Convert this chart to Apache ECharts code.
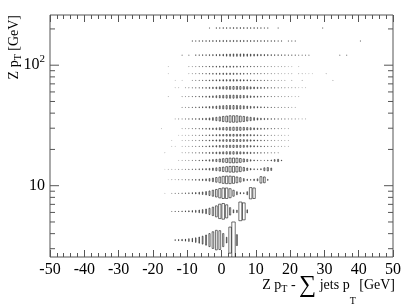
<!DOCTYPE html>
<html><head><meta charset="utf-8">
<script src="https://cdn.jsdelivr.net/npm/echarts/dist/echarts.min.js"></script>
<style>html,body{margin:0;padding:0;background:#fff}#c{width:415px;height:307px}</style>
</head><body><div id="c"></div>
<script>
// ---- data ----
const xMin = -50, xMax = 50, xBinWidth = 1;
const yMin = 2.56, yMax = 261;
// Z pT bin edges (GeV); row r spans [zptEdges[r], zptEdges[r+1]]
const zptEdges = [2.5, 5, 7.5, 10, 12.5, 15, 17.5, 20, 22.5, 25, 27.5, 32, 40, 50, 60, 70, 80, 90, 105, 140, 180, 230];
// first x bin (low edge, GeV) of each row's contiguous content list
const rowStarts = [-14, -15, -17, -16, -17, -13, -12, -12, -12, -13, -12, -14, -12, -12, -11, -9, -10, -10, -8, -9, -2];
const row00 = [3,4,5,6,8,10,13,17,22,28,36,46,54,52,36,16,72,100,30];
const row01 = [2,3,3,4,5,6,8,10,13,17,22,30,40,52,68,74,62,35,15,12,88,80,15];
const row02 = [1,0,2,3,3,4,5,6,8,10,13,17,22,30,40,50,62,70,70,60,40,20,10,8,20,75,70];
const row03 = [1,2,2,3,3,4,5,6,8,10,13,17,22,30,40,50,60,65,65,60,50,38,22,12,8,14,18,55,50,10];
const row04 = [1,2,2,2,3,3,4,5,6,7,9,11,14,18,24,30,38,46,54,60,62,58,50,38,26,16,10,8,12,30,35,25];
const row05 = [2,3,3,4,5,6,8,10,13,17,22,28,36,44,52,58,60,56,48,38,28,18,12,8,6,6,8,12,22,28,10];
const row06 = [3,3,4,5,6,7,9,11,14,18,22,26,30,33,35,35,33,30,26,22,18,14,11,9,7,6,5,5,4];
const row07 = [3,3,4,5,6,7,9,11,14,18,22,26,30,33,35,36,35,33,30,26,22,18,14,11,9,7,6,5,4,4,3,3];
const row08 = [3,3,4,5,6,7,9,11,14,17,21,25,29,32,34,35,35,33,30,27,23,19,15,12,9,7,6,5,4,4,3,3];
const row09 = [2,3,3,4,5,6,7,9,11,14,17,21,25,29,32,34,35,35,33,30,27,23,19,15,12,9,7,6,5,4,4,3,3];
const row10 = [3,3,4,5,6,7,9,11,14,18,22,27,31,35,38,40,40,38,35,31,27,22,18,14,11,9,7,6,5,4,3,3];
const row11 = [2,3,3,4,5,6,7,9,11,14,18,23,29,36,44,50,55,56,55,50,44,36,29,23,18,14,11,9,7,6,5,4,4,3,3,3,2,2,2];
const row12 = [3,3,4,5,6,7,9,11,14,17,21,25,28,30,31,31,30,28,25,21,17,14,11,9,7,6,5,4,4,3,3,3,2,2];
const row13 = [3,3,4,5,6,7,9,11,14,17,21,25,28,30,31,31,30,28,25,21,17,14,11,9,7,6,5,4,4,3,3,3,2,2,2];
const row14 = [3,4,5,6,7,9,11,14,17,21,25,29,32,34,35,35,34,32,29,25,21,17,14,11,9,7,6,5,4,4,3,3,3,2,2,2];
const row15 = [4,5,6,7,9,11,13,15,17,19,20,21,21,20,19,17,15,13,11,9,8,7,6,5,4,4,3,3];
const row16 = [3,4,5,6,7,9,11,13,15,17,19,20,20,19,17,15,13,11,10,9,8,7,6,5,5,4,4,3,3,3,3,0,3,3,2,2,2];
const row17 = [3,3,4,5,6,7,8,10,11,12,13,14,14,13,12,11,10,9,8,7,6,5,5,4,4,3,3,3,3,2,2];
const row18 = [5,5,6,6,7,8,9,10,12,14,15,16,16,16,16,15,14,13,12,10,9,8,7,6,6,5,5,4,4,4,3,3,3,3];
const row19 = [5,5,6,6,7,7,8,8,9,9,9,9,9,9,9,9,8,8,8,7,7,7,6,6,6,5,5];
const row20 = [6,6,7,7,7,8,8,8,8,7,7,7,6,6,5,5];
// isolated bins: [row, x bin low edge, content]
const outliers = [
  [6,-17,2],[7,-15,2],[7,-14,2],[8,-15,2],[10,-18,2],[13,-16,2],[14,-14,2],[14,-13,2],
  [15,-14,2],[15,-12,2],[15,20,3],[15,23,3],[15,32,3],[16,-16,2],[16,30,3],[17,-16,2],[17,22,2],
  [18,-12,3],[18,-10,3],[18,34,3],[18,36,3],[19,19,4],[19,20,4],[19,21,4],[19,40,4],
  [20,-4,4],[20,16,4],[20,29,4]
];
const maxContent = 100;
const yMajorTicks = [10, 100];
const yMinorTicks = [3, 4, 5, 6, 7, 8, 9, 20, 30, 40, 50, 60, 70, 80, 90, 200];

// ---- build items ----
const rows = [row00,row01,row02,row03,row04,row05,row06,row07,row08,row09,row10,row11,row12,row13,row14,row15,row16,row17,row18,row19,row20];
const boxes = [];
function addBin(r, k, c) {
  if (!c) return;
  const yl = zptEdges[r], yh = zptEdges[r + 1];
  boxes.push([k + xBinWidth / 2, Math.sqrt(yl * yh), k, k + xBinWidth, yl, yh, c]);
}
rows.forEach((vals, r) => vals.forEach((c, i) => addBin(r, rowStarts[r] + i * xBinWidth, c)));
outliers.forEach(o => addBin(o[0], o[1], o[2]));

const tickData = yMajorTicks.map(v => [0, v, 1]).concat(yMinorTicks.map(v => [0, v, 0]));

// ---- titles ----
const SERIF = '"Liberation Serif", "Times New Roman", serif';
const mctx = document.createElement('canvas').getContext('2d');
function tw(t, s) { mctx.font = s + 'px ' + SERIF; return mctx.measureText(t).width; }
const graphics = [];
const xTitle = [
  {t:'Z p', s:14, dy:0}, {t:'T', s:10, dy:4}, {t:' - ', s:14, dy:0}, {t:'\u2211', s:24, dy:1},
  {t:' jets p', s:14, dy:0}, {t:'T', s:10, dy:16}, {t:' [GeV]', s:14, dy:0}
];
let total = xTitle.reduce((a, p) => a + tw(p.t, p.s), 0);
let cx = 395 - total;
xTitle.forEach(p => {
  graphics.push({type:'text', x: cx, y: 285 + p.dy, style:{text:p.t, font: p.s + 'px ' + SERIF, fill:'#000', align:'left', verticalAlign:'middle'}});
  cx += tw(p.t, p.s);
});
const yTitle = [{t:'Z p', s:14, dx:0}, {t:'T', s:10, dx:4}, {t:' [GeV]', s:14, dx:0}];
total = yTitle.reduce((a, p) => a + tw(p.t, p.s), 0);
let cy = 15 + total;
yTitle.forEach(p => {
  graphics.push({type:'text', x: 14 + p.dx, y: cy, rotation: Math.PI / 2, style:{text:p.t, font: p.s + 'px ' + SERIF, fill:'#000', align:'left', verticalAlign:'middle'}});
  cy -= tw(p.t, p.s);
});

// ---- chart ----
const chart = echarts.init(document.getElementById('c'), null, {renderer:'canvas'});
const axisCol = '#555';
const xAxisBase = {
  type:'value', min:xMin, max:xMax, interval:10,
  axisLine:{show:false}, splitLine:{show:false},
  axisTick:{show:true, inside:true, length:7, lineStyle:{color:axisCol, width:1}},
  minorTick:{show:true, splitNumber:5, length:4, lineStyle:{color:axisCol, width:1}},
};
chart.setOption({
  animation:false,
  backgroundColor:'#fff',
  grid:{left:50, right:22, top:15, bottom:50, show:true, borderColor:axisCol, borderWidth:1, backgroundColor:'transparent'},
  graphic: graphics,
  xAxis:[
    Object.assign({}, xAxisBase, {position:'bottom', axisLabel:{show:true, margin:5, color:'#000', fontFamily:SERIF, fontSize:16}}),
    Object.assign({}, xAxisBase, {position:'top', axisLabel:{show:false}})
  ],
  yAxis:{
    type:'log', logBase:10, min:yMin, max:yMax,
    axisLine:{show:false}, axisTick:{show:false}, splitLine:{show:false}, minorTick:{show:false},
    axisLabel:{show:true, margin:5, color:'#000', fontFamily:SERIF, fontSize:16, showMinLabel:false, showMaxLabel:false,
      formatter: v => (Math.abs(v - 10) < 1e-6 ? '{b|10}' : (Math.abs(v - 100) < 1e-6 ? '{b|10}{s|2}' : '')),
      rich:{b:{fontFamily:SERIF, fontSize:16, color:'#000'}, s:{fontFamily:SERIF, fontSize:11, color:'#000', padding:[0,0,12,0]}}}
  },
  series:[
    {
      type:'custom', xAxisIndex:0, yAxisIndex:0, clip:true, silent:true,
      data: boxes,
      renderItem(params, api) {
        const f = api.value(6) / maxContent;
        const p1 = api.coord([api.value(2), api.value(4)]);
        const p2 = api.coord([api.value(3), api.value(5)]);
        const cxp = (p1[0] + p2[0]) / 2, cyp = (p1[1] + p2[1]) / 2;
        const w = Math.abs(p2[0] - p1[0]) * f, h = Math.abs(p1[1] - p2[1]) * f;
        return {type:'rect', shape:{x:cxp - w / 2, y:cyp - h / 2, width:w, height:h},
          style:{fill:'none', stroke:'#111', lineWidth:0.6}};
      }
    },
    {
      type:'custom', xAxisIndex:0, yAxisIndex:0, clip:false, silent:true,
      data: tickData,
      renderItem(params, api) {
        const len = api.value(2) ? 9 : 5;
        const pl = api.coord([xMin, api.value(1)]);
        const pr = api.coord([xMax, api.value(1)]);
        const st = {stroke:axisCol, lineWidth:1};
        return {type:'group', children:[
          {type:'line', shape:{x1:pl[0], y1:pl[1], x2:pl[0] + len, y2:pl[1]}, style:st},
          {type:'line', shape:{x1:pr[0], y1:pr[1], x2:pr[0] - len, y2:pr[1]}, style:st}
        ]};
      }
    }
  ]
});
</script></body></html>
